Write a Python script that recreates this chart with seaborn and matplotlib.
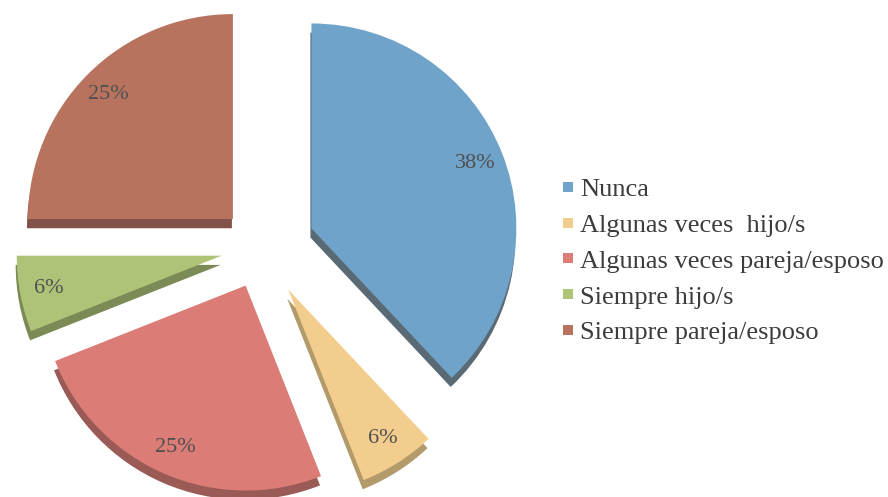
import matplotlib
matplotlib.use("Agg")
import matplotlib.pyplot as plt
import seaborn as sns
from matplotlib.lines import Line2D

# datos del grafico
categorias = ["Nunca", "Algunas veces  hijo/s", "Algunas veces pareja/esposo",
              "Siempre hijo/s", "Siempre pareja/esposo"]
porcentajes = [38, 6, 25, 6, 25]
colores = ["#6fa3c9", "#f3cd8e", "#dc7c76", "#aec377", "#b8735f"]
sombras = ["#5a6a74", "#b39a6a", "#9a5a55", "#7c8a56", "#82524a"]

sns.set_theme(style="white")
plt.rcParams['font.family'] = ['Liberation Serif', 'DejaVu Serif']

fig = plt.figure(figsize=(8.88, 4.97), dpi=100)
ax = fig.add_axes([0, 0, 0.6, 1])

explode = [0.26, 0.24, 0.2, 0.2, 0.2]

# "grosor" 3D: una copia oscura desplazada hacia abajo
ax.pie(porcentajes, colors=sombras, explode=explode, startangle=90,
       counterclock=False, radius=1, center=(-0.005, -0.045),
       wedgeprops=dict(linewidth=0))

wedges, texts, autotexts = ax.pie(
    porcentajes, colors=colores, explode=explode, startangle=90,
    counterclock=False, radius=1, autopct="%1.0f%%", pctdistance=0.86,
    wedgeprops=dict(linewidth=0),
    textprops=dict(fontsize=16, color="#505050"))

s = 205.0
ax.set_xlim(-262 / s, (533 - 262) / s)
ax.set_ylim(-(497 - 248) / s, 248 / s)
ax.set_aspect("equal")
ax.axis("off")

handles = [Line2D([0], [0], marker="s", linestyle="", markersize=7,
                  markerfacecolor=c, markeredgewidth=0) for c in colores]
fig.legend(handles, categorias, loc="center left", bbox_to_anchor=(0.606, 0.475),
           frameon=False, fontsize=19, handlelength=0.5, handletextpad=0.2,
           labelspacing=0.47, labelcolor="#3c3c3c")

fig.savefig("out.png", dpi=100)
